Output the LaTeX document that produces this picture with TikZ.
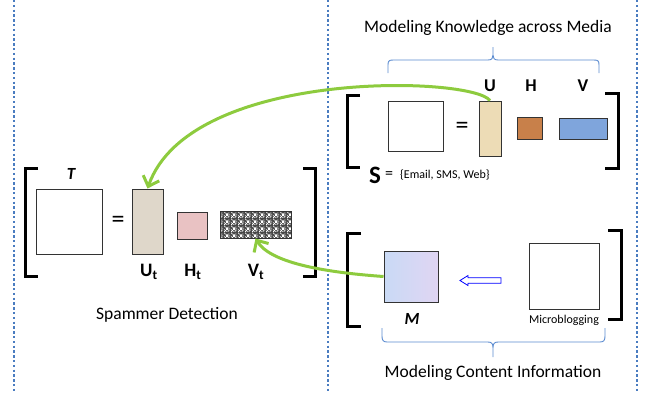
\documentclass[tikz,border=0pt]{standalone}
\usepackage{fontspec}
\setmainfont{Carlito}
\usetikzlibrary{arrows.meta,patterns}
\definecolor{dotblue}{HTML}{4A7CC0}
\definecolor{braceblue}{HTML}{5B8BD0}
\definecolor{arrgreen}{HTML}{8DCB3E}
\definecolor{utfill}{HTML}{DFD7CA}
\definecolor{htfill}{HTML}{E9C2C3}
\definecolor{ufill}{HTML}{EDDCB6}
\definecolor{hfill}{HTML}{C8804A}
\definecolor{vfill}{HTML}{7FA5DC}
\definecolor{mleft}{HTML}{C9DAF5}
\definecolor{mright}{HTML}{E0D5F3}
\pgfdeclarepatternformonly{vtpat}{\pgfpointorigin}{\pgfpoint{7pt}{7pt}}{\pgfpoint{7pt}{7pt}}{
  \pgfpathrectangle{\pgfpoint{0pt}{0pt}}{\pgfpoint{1pt}{1pt}}
  \pgfpathrectangle{\pgfpoint{2pt}{0pt}}{\pgfpoint{1pt}{1pt}}
  \pgfpathrectangle{\pgfpoint{4pt}{0pt}}{\pgfpoint{1pt}{1pt}}
  \pgfpathrectangle{\pgfpoint{1pt}{1pt}}{\pgfpoint{1pt}{1pt}}
  \pgfpathrectangle{\pgfpoint{5pt}{1pt}}{\pgfpoint{1pt}{1pt}}
  \pgfpathrectangle{\pgfpoint{0pt}{2pt}}{\pgfpoint{1pt}{1pt}}
  \pgfpathrectangle{\pgfpoint{4pt}{2pt}}{\pgfpoint{1pt}{1pt}}
  \pgfpathrectangle{\pgfpoint{2.5pt}{2pt}}{\pgfpoint{2pt}{3pt}}
  \pgfpathrectangle{\pgfpoint{2pt}{2.5pt}}{\pgfpoint{3pt}{2pt}}
  \pgfpathrectangle{\pgfpoint{1pt}{5pt}}{\pgfpoint{1pt}{1pt}}
  \pgfpathrectangle{\pgfpoint{5pt}{5pt}}{\pgfpoint{1pt}{1pt}}
  \pgfpathrectangle{\pgfpoint{0pt}{6pt}}{\pgfpoint{1pt}{1pt}}
  \pgfpathrectangle{\pgfpoint{6pt}{3pt}}{\pgfpoint{1pt}{1pt}}
  \pgfusepath{fill}
}
\tikzset{
  mat/.style={draw=black!80, line width=0.9pt, inner sep=0pt},
  brk/.style={line width=3pt, line cap=butt, line join=miter},
  sep/.style={dotblue, line width=2.6pt, dash pattern=on 2.4pt off 2.4pt},
  brc/.style={braceblue, line width=0.9pt},
  garrow/.style={arrgreen, line width=3pt, -{Straight Barb[length=9pt,width=17pt,line width=3pt]}},
  lbl/.style={inner sep=0pt, font=\fontsize{17.5}{20}\selectfont},
  blbl/.style={inner sep=0pt, font=\fontsize{19}{22}\selectfont\bfseries},
  eq/.style={inner sep=0pt, font=\fontsize{26}{28}\selectfont},
}
\begin{document}
\begin{tikzpicture}[x=1pt,y=-1pt]
\useasboundingbox (0,0) rectangle (654,392);
% separators
\draw[sep] (14,0) -- (14,392);
\draw[sep] (328,0) -- (328,392);
\draw[sep] (637,0) -- (637,392);

% ---------- Spammer detection ----------
\draw[brk] (38,168) -- (25,168) -- (25,276) -- (38,276);
\draw[brk] (303,168) -- (315,168) -- (315,276) -- (303,276);
\node[mat, minimum width=66pt, minimum height=65pt] (T) at (69,221.5) {};
\node[inner sep=0pt, font=\fontsize{17}{20}\selectfont\bfseries\itshape] (Tl) at (71,174) {T};
\node[eq] (eq1) at (118,222) {=};
\node[mat, fill=utfill, minimum width=31pt, minimum height=65pt] (Ut) at (147.5,221.5) {};
\node[mat, fill=htfill, minimum width=30pt, minimum height=27pt] (Ht) at (192,225.5) {};
\node[mat, preaction={fill=black!72}, pattern=vtpat, pattern color=white, minimum width=71pt, minimum height=27pt] (Vt) at (255.5,224.5) {};
\node[blbl] (Utl) at (149,272) {U\textsubscript{t}};
\node[blbl] (Htl) at (193,272) {H\textsubscript{t}};
\node[blbl] (Vtl) at (256,272) {V\textsubscript{t}};
\node[lbl] (sd) at (167,315) {Spammer Detection};

% ---------- Knowledge across media ----------
\node[lbl] (mk) at (488,28) {Modeling Knowledge across Media};
\draw[brc] (388,73) -- (388,65) .. controls (388,61) and (389,60) .. (393,60) -- (488,60)
  .. controls (492,60) and (493,58) .. (493,55) -- (493,47)
  (493,55) .. controls (493,58) and (494,60) .. (498,60) -- (594,60)
  .. controls (598,60) and (599,61) .. (599,65) -- (599,73);
\draw[brk] (360,95) -- (347,95) -- (347,167) -- (360,167);
\draw[brk] (605,93) -- (618,93) -- (618,168) -- (605,168);
\node[mat, minimum width=55pt, minimum height=50pt] (S) at (415.5,126) {};
\node[eq] (eq2) at (462,128) {=};
\node[mat, fill=ufill, minimum width=22pt, minimum height=55pt] (U) at (490,128.5) {};
\node[mat, fill=hfill, minimum width=25pt, minimum height=22pt] (H) at (529.5,128) {};
\node[mat, fill=vfill, minimum width=48pt, minimum height=21pt] (V) at (583,128.5) {};
\node[inner sep=0pt, font=\fontsize{18}{20}\selectfont\bfseries] (Ul) at (490,86) {U};
\node[inner sep=0pt, font=\fontsize{18}{20}\selectfont\bfseries] (Hl) at (531,86) {H};
\node[inner sep=0pt, font=\fontsize{18}{20}\selectfont\bfseries] (Vl) at (583,86) {V};
\node[inner sep=0pt, font=\fontsize{25}{28}\selectfont\bfseries] (Sl) at (375,175) {S};
\node[inner sep=0pt, anchor=west, font=\fontsize{16}{18}\selectfont] (Seq) at (385,175) {=};
\node[inner sep=0pt, anchor=west, font=\fontsize{12}{14}\selectfont] (Sset) at (400,175) {\{Email, SMS, Web\}};

% ---------- Content information ----------
\draw[brk] (361,233) -- (347,233) -- (347,326) -- (361,326);
\draw[brk] (608,230) -- (621,230) -- (621,319) -- (608,319);
\node[mat, left color=mleft, right color=mright, minimum width=54pt, minimum height=51pt] (M) at (411,276.5) {};
\node[inner sep=0pt, font=\fontsize{17}{20}\selectfont\bfseries\itshape] (Ml) at (412,319) {M};
\node[mat, minimum width=70pt, minimum height=66pt] (MB) at (564,276) {};
\node[inner sep=0pt, font=\fontsize{12}{14}\selectfont] (MBl) at (564,320) {Microblogging};
\draw[blue, line width=0.8pt, fill=white] (460,280.5) -- (468,275.5) -- (468,277.8) -- (501,277.8) -- (501,283.2) -- (468,283.2) -- (468,285.5) -- cycle;
\draw[brc] (382,328) -- (382,336) .. controls (382,340) and (383,342) .. (387,342) -- (488,342)
  .. controls (492,342) and (493,344) .. (493,348) -- (493,357)
  (493,348) .. controls (493,344) and (494,342) .. (498,342) -- (600,342)
  .. controls (604,342) and (605,340) .. (605,336) -- (605,328);
\node[lbl] (mc) at (493,373) {Modeling Content Information};

% ---------- green connectors ----------
\draw[garrow] (U.north) .. controls (472,76) and (190,68) .. (Ut.north);
\draw[garrow] (M.west) .. controls (320,272) and (270,262) .. (Vt.south);
\end{tikzpicture}
\end{document}
